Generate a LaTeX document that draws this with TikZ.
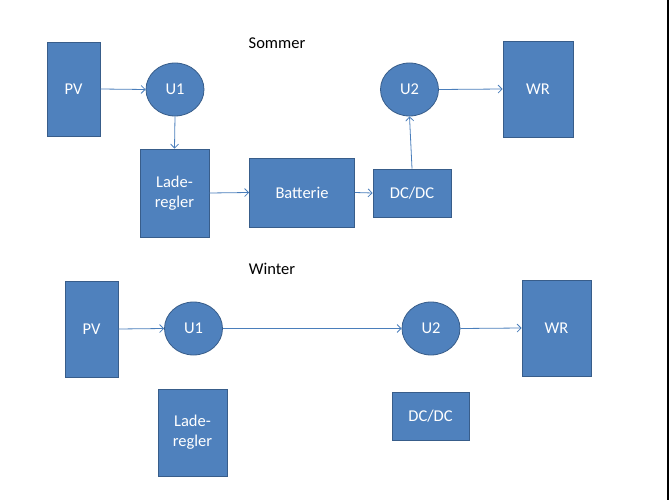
\documentclass[tikz,border=0pt]{standalone}
\usepackage{fontspec}
\setmainfont{Carlito}
\usepackage{tikz}
\usetikzlibrary{shapes.geometric,arrows.meta}

\definecolor{boxblue}{RGB}{79,129,189}
\definecolor{boxline}{RGB}{56,93,138}
\definecolor{flowline}{RGB}{74,126,187}

\begin{document}
\begin{tikzpicture}[x=1pt,y=-1pt,
    block/.style={rectangle, fill=boxblue, draw=boxline, line width=0.8pt, text=white,
      font=\fontsize{16.5}{20}\selectfont, align=center, inner sep=0pt},
    conv/.style={ellipse, fill=boxblue, draw=boxline, line width=0.8pt, text=white,
      font=\fontsize{16.5}{20}\selectfont, inner sep=0pt, minimum width=58pt, minimum height=53pt},
    flow/.style={draw=flowline, line width=0.8pt, -{Straight Barb[length=4pt,width=8pt]}},
    title/.style={font=\fontsize{16.5}{20}\selectfont}]
      \useasboundingbox (0,0) rectangle (669,500);
      \fill (667,0) rectangle (669,500);
      % Sommer
      \draw (277,43) node[title](sommer){Sommer};
      \draw (73.5,89) node[block, minimum width=53pt, minimum height=94pt](pvS){PV};
      \draw (175,89.5) node[conv](u1S){U1};
      \draw (174.5,193) node[block, minimum width=69pt, minimum height=88pt](ladeS){Lade-\\regler};
      \draw (302,192.5) node[block, minimum width=105pt, minimum height=69pt](batS){Batterie};
      \draw (412,193) node[block, minimum width=78pt, minimum height=48pt](dcS){DC/DC};
      \draw (409.5,89.5) node[conv](u2S){U2};
      \draw (538,89) node[block, minimum width=70pt, minimum height=96pt](wrS){WR};
      \draw[flow] (pvS.east) -- (u1S.west);
      \draw[flow] (u1S.south) -- (ladeS.north);
      \draw[flow] (ladeS.east) -- (batS.west);
      \draw[flow] (batS.east) -- (dcS.west);
      \draw[flow] (dcS.north) -- (u2S.south);
      \draw[flow] (u2S.east) -- (wrS.west);
      % Winter
      \draw (272,269) node[title](winter){Winter};
      \draw (91.5,329) node[block, minimum width=53pt, minimum height=96pt](pvW){PV};
      \draw (193.5,328.5) node[conv](u1W){U1};
      \draw (192.5,432.5) node[block, minimum width=69pt, minimum height=87pt](ladeW){Lade-\\regler};
      \draw (431,328.5) node[conv](u2W){U2};
      \draw (430.5,416) node[block, minimum width=77pt, minimum height=48pt](dcW){DC/DC};
      \draw (556.5,328) node[block, minimum width=69pt, minimum height=96pt](wrW){WR};
      \draw[flow] (pvW.east) -- (u1W.west);
      \draw[flow] (u1W.east) -- (u2W.west);
      \draw[flow] (u2W.east) -- (wrW.west);
\end{tikzpicture}
\end{document}
